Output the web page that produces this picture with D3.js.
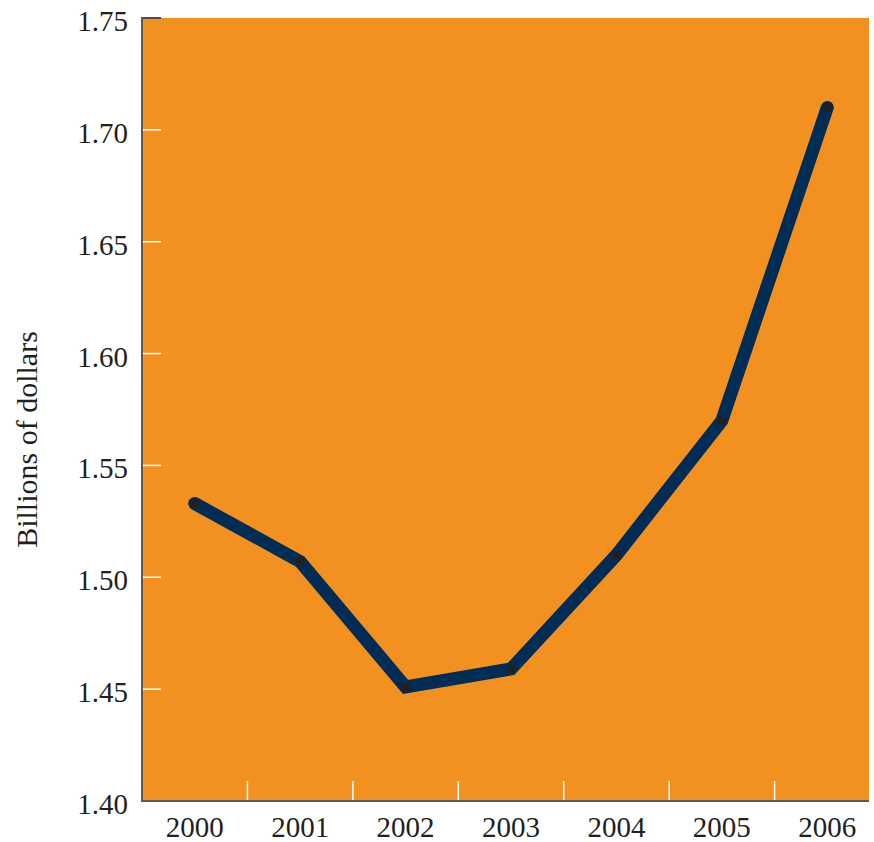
<!DOCTYPE html>
<html>
<head>
<meta charset="utf-8">
<script src="https://cdn.jsdelivr.net/npm/d3@7"></script>
<style>
  html, body { margin: 0; padding: 0; background: #ffffff; }
  svg { display: block; }
  text { font-family: "Liberation Serif", "Times New Roman", serif; fill: #231f20; }
</style>
</head>
<body>
<svg id="chart" width="874" height="842"></svg>
<script>
const years = ["2000", "2001", "2002", "2003", "2004", "2005", "2006"];
const values = [1.533, 1.507, 1.451, 1.459, 1.510, 1.570, 1.710];
const yTicks = [1.40, 1.45, 1.50, 1.55, 1.60, 1.65, 1.70, 1.75];
const yTitle = "Billions of dollars";

const svg = d3.select("#chart");
const plotLeft = 142, plotRight = 869, plotTop = 18, plotBottom = 801;

const x = d3.scaleBand().domain(years).range([plotLeft, 880]).padding(0);
const y = d3.scaleLinear().domain([1.40, 1.75]).range([plotBottom, plotTop]);
const cx = d => x(d) + x.bandwidth() / 2;

// background
svg.append("rect")
  .attr("x", plotLeft).attr("y", plotTop)
  .attr("width", plotRight - plotLeft).attr("height", plotBottom - plotTop)
  .attr("fill", "#f39120");

// y ticks (inside)
svg.append("g").selectAll("line").data(yTicks).join("line")
  .attr("x1", plotLeft).attr("x2", plotLeft + 19)
  .attr("y1", d => y(d)).attr("y2", d => y(d))
  .attr("stroke", (d, i) => (i === 0 || i === yTicks.length - 1) ? "#4d4d4f" : "#ffffff")
  .attr("stroke-width", (d, i) => (i === 0 || i === yTicks.length - 1) ? 2 : 1.5);

// y tick labels
svg.append("g").selectAll("text").data(yTicks).join("text")
  .attr("x", 128).attr("y", d => y(d) + 13)
  .attr("text-anchor", "end")
  .attr("font-size", 29)
  .text(d => d.toFixed(2));

// x ticks at band boundaries (white, inside)
const xTickPos = years.slice(1).map(d => x(d));
svg.append("g").selectAll("line").data(xTickPos).join("line")
  .attr("x1", d => d).attr("x2", d => d)
  .attr("y1", plotBottom - 20).attr("y2", plotBottom)
  .attr("stroke", "#ffffff").attr("stroke-width", 1.5);

// x labels
svg.append("g").selectAll("text").data(years).join("text")
  .attr("x", d => cx(d)).attr("y", 837)
  .attr("text-anchor", "middle")
  .attr("font-size", 29)
  .text(d => d);

// axis lines
svg.append("line")
  .attr("x1", plotLeft).attr("x2", plotLeft).attr("y1", plotTop - 1).attr("y2", plotBottom + 1)
  .attr("stroke", "#58595b").attr("stroke-width", 2);
svg.append("line")
  .attr("x1", plotLeft).attr("x2", plotRight).attr("y1", plotBottom).attr("y2", plotBottom)
  .attr("stroke", "#58595b").attr("stroke-width", 2);

// y title
svg.append("text")
  .attr("transform", `translate(37, ${(plotTop + plotBottom) / 2 + 30}) rotate(-90)`)
  .attr("text-anchor", "middle")
  .attr("font-size", 30)
  .attr("fill", "#333")
  .text(yTitle);

// line
const data = years.map((d, i) => ({ year: d, value: values[i] }));
const line = d3.line().x(d => cx(d.year)).y(d => y(d.value));
svg.append("path")
  .datum(data)
  .attr("d", line)
  .attr("fill", "none")
  .attr("stroke", "#002d56")
  .attr("stroke-width", 13)
  .attr("stroke-linecap", "round")
  .attr("stroke-linejoin", "miter");

// markers
svg.append("g").selectAll("rect").data(data).join("rect")
  .attr("x", d => cx(d.year) - 4).attr("y", d => y(d.value) - 4)
  .attr("width", 8).attr("height", 8)
  .attr("fill", "#231f20");
</script>
</body>
</html>
